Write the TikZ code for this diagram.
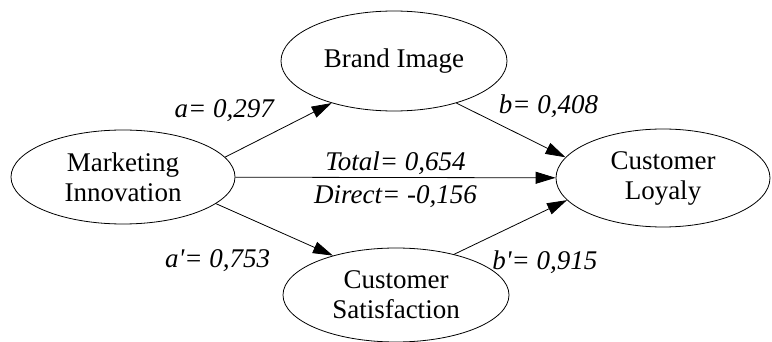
\documentclass[tikz,border=0pt]{standalone}
\usepackage{fontspec}
\setmainfont{Liberation Serif}
\usetikzlibrary{shapes.geometric}
\usetikzlibrary{arrows.meta}
\usetikzlibrary{calc}
\tikzstyle{construct}=[ellipse,draw,inner sep=0pt,align=center,font=\fontsize{13.5}{15}\selectfont]
\tikzstyle{edge} = [draw,-{Triangle[length=10pt,width=6pt]}]
\tikzstyle{weight} = [font=\fontsize{13.5}{15}\selectfont\itshape,inner sep=2pt]

\begin{document}
\begin{tikzpicture}[x=0.5pt,y=-0.5pt]

  \useasboundingbox (0,0) rectangle (772,342);

  \foreach \x/\y/\w/\h/\name/\label in {123/177/112/47/mi/{Marketing\\Innovation}, 394/61/113/50/bi/{Brand Image}, 663/178/107/49/cl/{Customer\\Loyaly}, 396/295/113/47/cs/{Customer\\Satisfaction}}
          \node[construct, minimum width=\w pt, minimum height=\h pt] (\name) at (\x,\y) {\label};

  \foreach \source/ \dest /\pos/\where/\dy/\weight in {mi.11/bi.214/0.5/above left/2/{a= 0,297}, bi.-34/cl.168/0.35/above right/0/{b= 0,408}, mi.-16/cs.148/0.5/below left/-8/{a\textquotesingle= 0,753}, cs.35/cl.193/0.3/below right/-4/{b\textquotesingle= 0,915}}
         \path[edge] (\source) -- node[weight,pos=\pos,\where,yshift=\dy pt] {\weight} (\dest);

  \path[edge] (mi) -- node[weight,above,yshift=-1pt] {Total= 0,654} node[weight,below,yshift=-2pt] {Direct= -0,156} (cl);

\end{tikzpicture}
\end{document}
